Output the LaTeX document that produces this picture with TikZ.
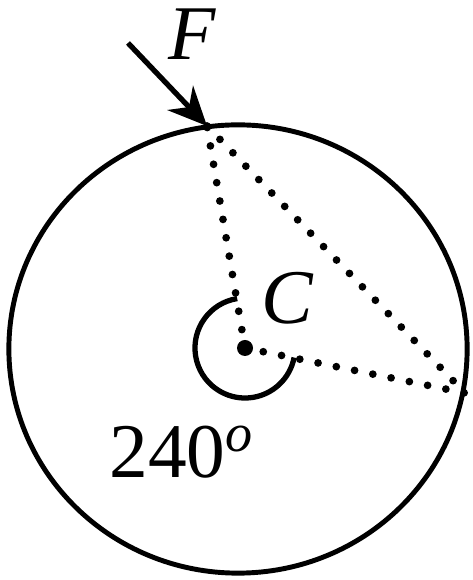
\documentclass[tikz,border=0pt]{standalone}
\usepackage{fontspec}
\setmainfont{Liberation Serif}
\usetikzlibrary{positioning,arrows.meta,calc}
\definecolor{InkBlack}{HTML}{000000}
\tikzset{
  dotline/.style={draw=InkBlack,line width=2.2pt,line cap=round,dash pattern=on 0pt off 5.3pt},
  labeltext/.style={text=InkBlack,inner sep=0pt,font=\fontsize{22}{26}\selectfont}
}
\begin{document}
\begin{tikzpicture}[x=0.01cm,y=0.01cm]
  \useasboundingbox (0,0) rectangle (472,580);
  \coordinate (C) at (245,232);
  \coordinate (P) at (207,454);
  \coordinate (Q) at (465,187);
  \coordinate (Ftail) at (128,537);
  % rim
  \draw[line width=1.4pt] (238,231) ellipse [x radius=2.29cm,y radius=2.24cm];
  % chords
  \draw[dotline] (C) -- (P);
  \draw[dotline] (P) -- (Q);
  \draw[dotline] (C) -- (Q);
  % angle mark
  \draw[line width=1.5pt] ($(C)+(99:0.5cm)$) arc[start angle=99,end angle=349,radius=0.5cm];
  \fill[InkBlack] (C) circle[radius=0.08cm];
  % force
  \draw[line width=1.5pt,-{Stealth[length=11pt,width=10pt]}] (Ftail) -- (P);
  \node[labeltext] (Flabel) at (192,546) {\textit{F}};
  \node[labeltext] (Clabel) at (288,282) {\textit{C}};
  \node[labeltext] (anglabel) at (182,128) {240\textsuperscript{\itshape o}};
\end{tikzpicture}
\end{document}
